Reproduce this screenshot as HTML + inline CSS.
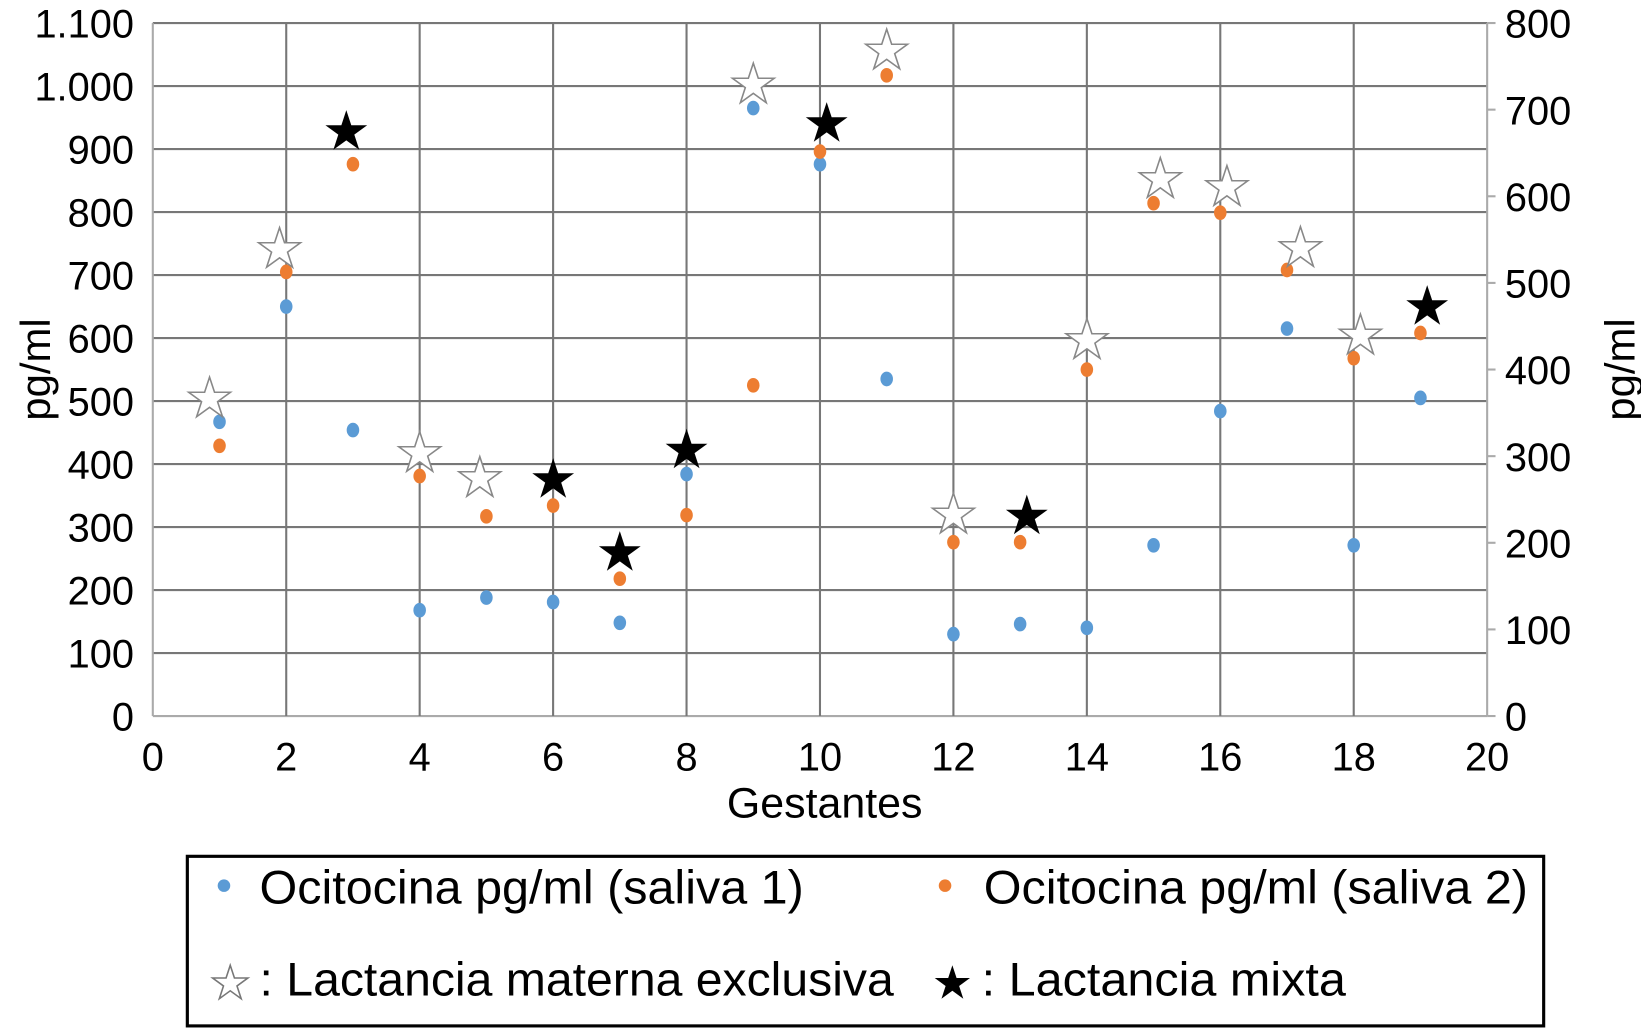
<!DOCTYPE html>
<html><head><meta charset="utf-8"><style>
html,body{margin:0;padding:0;background:#fff;}
svg{display:block;font-family:"Liberation Sans",Arial,sans-serif;}
</style></head><body>
<svg id="chart" width="1641" height="1028" viewBox="0 0 1568 982" preserveAspectRatio="none" xmlns="http://www.w3.org/2000/svg">
<g id="grid"></g>
<g id="axes"></g>
<g id="marks"></g>
<text x="788" y="781" font-size="41" text-anchor="middle">Gestantes</text>
<text transform="translate(48,353) rotate(-90)" font-size="40" text-anchor="middle">pg/ml</text>
<text transform="translate(1562,353) rotate(-90)" font-size="40" text-anchor="middle">pg/ml</text>
<g>
<rect x="179" y="818" width="1296" height="162" fill="#fff" stroke="#000" stroke-width="3"/>
<circle cx="214" cy="846" r="6" fill="#5b9bd5"/>
<text x="248" y="863" font-size="45" textLength="520" lengthAdjust="spacingAndGlyphs">Ocitocina pg/ml (saliva 1)</text>
<circle cx="903" cy="846" r="6" fill="#ed7d31"/>
<text x="940" y="863" font-size="45" textLength="520" lengthAdjust="spacingAndGlyphs">Ocitocina pg/ml (saliva 2)</text>
<text x="220" y="954" font-size="44" text-anchor="middle" fill="#fff" stroke="#777" stroke-width="1.5">★</text>
<text x="248" y="951" font-size="45" textLength="606" lengthAdjust="spacingAndGlyphs">: Lactancia materna exclusiva</text>
<text x="910" y="954" font-size="44" text-anchor="middle" fill="#000">★</text>
<text x="938" y="951" font-size="45" textLength="348" lengthAdjust="spacingAndGlyphs">: Lactancia mixta</text>
</g>
</svg>
<script>
const xTicks=[0,2,4,6,8,10,12,14,16,18,20];
const yTicksLeft=["0","100","200","300","400","500","600","700","800","900","1.000","1.100"];
const yTicksRight=["0","100","200","300","400","500","600","700","800"];
const subjects=[1,2,3,4,5,6,7,8,9,10,11,12,13,14,15,16,17,18,19];
const saliva1=[467,650,454,168,188,181,148,384,965,876,535,130,146,140,271,484,615,271,505];
const saliva2=[429,705,876,381,317,334,218,319,525,896,1017,276,276,550,814,799,708,568,608];
const openStarX=[0.85,1.9,4,4.9,9,11,12,14,15.1,16.1,17.2,18.1];
const openStarY=[505,743,419,379,1004,1058,321,598,854,841,744,605];
const filledStarX=[2.9,6,7,8,10.1,13.1,19.1];
const filledStarY=[929,377,261,424,942,319,651];
const NS="http://www.w3.org/2000/svg";
const L=146,R=1421,T=22,B=684;
const xs=v=>L+(v-0)/20*(R-L);
const ys=v=>B-v/1100*(B-T);
const ysR=v=>B-v/800*(B-T);
function mk(tag,attrs,parent){const e=document.createElementNS(NS,tag);for(const k in attrs)e.setAttribute(k,attrs[k]);parent.appendChild(e);return e;}
const grid=document.getElementById('grid'),axes=document.getElementById('axes'),marks=document.getElementById('marks');
yTicksLeft.forEach((t,i)=>{
  const y=ys(i*100);
  const l=mk('line',{x1:L,x2:R,y1:y,y2:y,stroke:i==0?'#aaa':'#777','stroke-width':2},grid);
  
  
  const tx=mk('text',{x:128,y:y+14,'font-size':38,'text-anchor':'end'},axes);tx.textContent=t;
  
  
});
xTicks.forEach((t,i)=>{
  const x=xs(t);
  if(i>0){const l=mk('line',{x1:x,x2:x,y1:T,y2:B,stroke:i==xTicks.length-1?'#aaa':'#777','stroke-width':2},grid);
  
  }
  const tx=mk('text',{x:x,y:736,'font-size':38,'text-anchor':'middle'},axes);tx.textContent=t;
  
  
});
const yl=mk('line',{x1:L,x2:L,y1:T,y2:B,stroke:'#aaa','stroke-width':2},axes);


yTicksRight.forEach((t,i)=>{
  const y=ysR(i*100);
  const l=mk('line',{x1:R,x2:R+8,y1:y,y2:y,stroke:'#aaa','stroke-width':2},axes);
  
  
  const tx=mk('text',{x:1438,y:y+14,'font-size':38},axes);tx.textContent=t;
  
  
});
subjects.forEach((s,i)=>{
  const c=mk('ellipse',{cx:xs(s),cy:ys(saliva1[i]),rx:6,ry:7,fill:'#5b9bd5'},marks);
  
  
  const d=mk('ellipse',{cx:xs(s),cy:ys(saliva2[i]),rx:6,ry:7,fill:'#ed7d31'},marks);
  
  
});
openStarX.forEach((x,i)=>{
  const t=mk('text',{x:xs(x),y:ys(openStarY[i])+18,'font-size':52,'text-anchor':'middle',fill:'#fff',stroke:'#888','stroke-width':1.5},marks);t.textContent='★';
  
  
});
filledStarX.forEach((x,i)=>{
  const t=mk('text',{x:xs(x),y:ys(filledStarY[i])+18,'font-size':52,'text-anchor':'middle',fill:'#000'},marks);t.textContent='★';
  
  
});
</script>
</body></html>
